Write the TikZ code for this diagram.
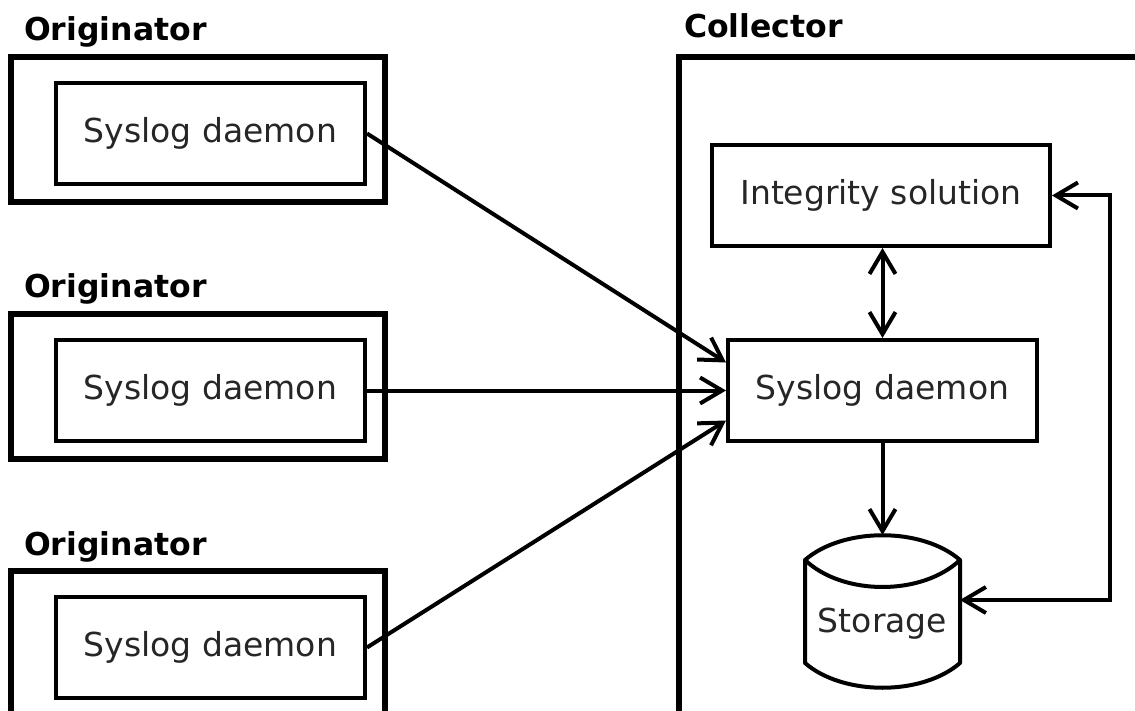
\documentclass[tikz,border=0pt]{standalone}
\usepackage{fontspec}
\setmainfont{DejaVu Sans}
\usetikzlibrary{arrows.meta,calc}

\begin{document}
\begin{tikzpicture}[x=1pt,y=-1pt,
  every node/.style={font=\fontsize{33}{40}\selectfont,text=black!85},
  hostbox/.style={draw,line width=6pt,minimum width=374pt,minimum height=145pt,inner sep=0pt},
  procbox/.style={draw,line width=4pt,minimum width=309pt,minimum height=101pt,inner sep=0pt},
  hostlabel/.style={anchor=base west,inner sep=0pt,text=black,font=\fontsize{31.5}{38}\selectfont\bfseries},
  >={Straight Barb[length=22pt,width=26pt]},
  flow/.style={line width=4pt,line join=miter},
]
\useasboundingbox (0,0) rectangle (1135,711);
\fill[white] (0,0) rectangle (1135,711);
\clip (0,0) rectangle (1135,711);

% originator hosts
\foreach \i/\dy in {1/0,2/257,3/514}{
  \node[hostbox] (h\i) at (198,129.5+\dy) {};
  \node[procbox] (o\i) at (210.5,133.5+\dy) {Syslog daemon};
  \node[hostlabel] (hl\i) at (24,41+\dy) {Originator};
}

% collector host
\node[draw,line width=6pt,anchor=north west,outer sep=0pt,minimum width=600pt,minimum height=800pt,inner sep=0pt] (col) at (679,57) {};
\node[hostlabel] (cl) at (684,38) {Collector};

\node[procbox,minimum width=338pt] (is) at (881,195.5) {Integrity solution};
\node[procbox] (cs) at (882.5,390.5) {Syslog daemon};

% storage cylinder
\draw[line width=4pt,line join=round]
  (805,560) .. controls (843,527) and (922,527) .. (960,560)
  -- (960,663) .. controls (922,696) and (843,696) .. (805,663) -- cycle;
\draw[line width=4pt]
  (805,560) .. controls (843,596) and (922,596) .. (960,560);
\coordinate (cyltop) at (882.5,535);
\coordinate (cylr) at (960,600);
\node[inner sep=0pt] (st) at (882.5,624) {Storage};

% message flow
\draw[flow,->] (o1.east) -- ($(cs.west)+(0,-28)$);
\draw[flow,->] (o2.east) -- (cs.west);
\draw[flow,->] (o3.east) -- ($(cs.west)+(0,30)$);
\draw[flow,<->] (is.south -| cs.north) -- (cs.north);
\draw[flow,->] (cs.south) -- (cyltop);
\draw[flow,<->] (cylr) -- ++(150,0) |- (is.east);
\end{tikzpicture}
\end{document}
